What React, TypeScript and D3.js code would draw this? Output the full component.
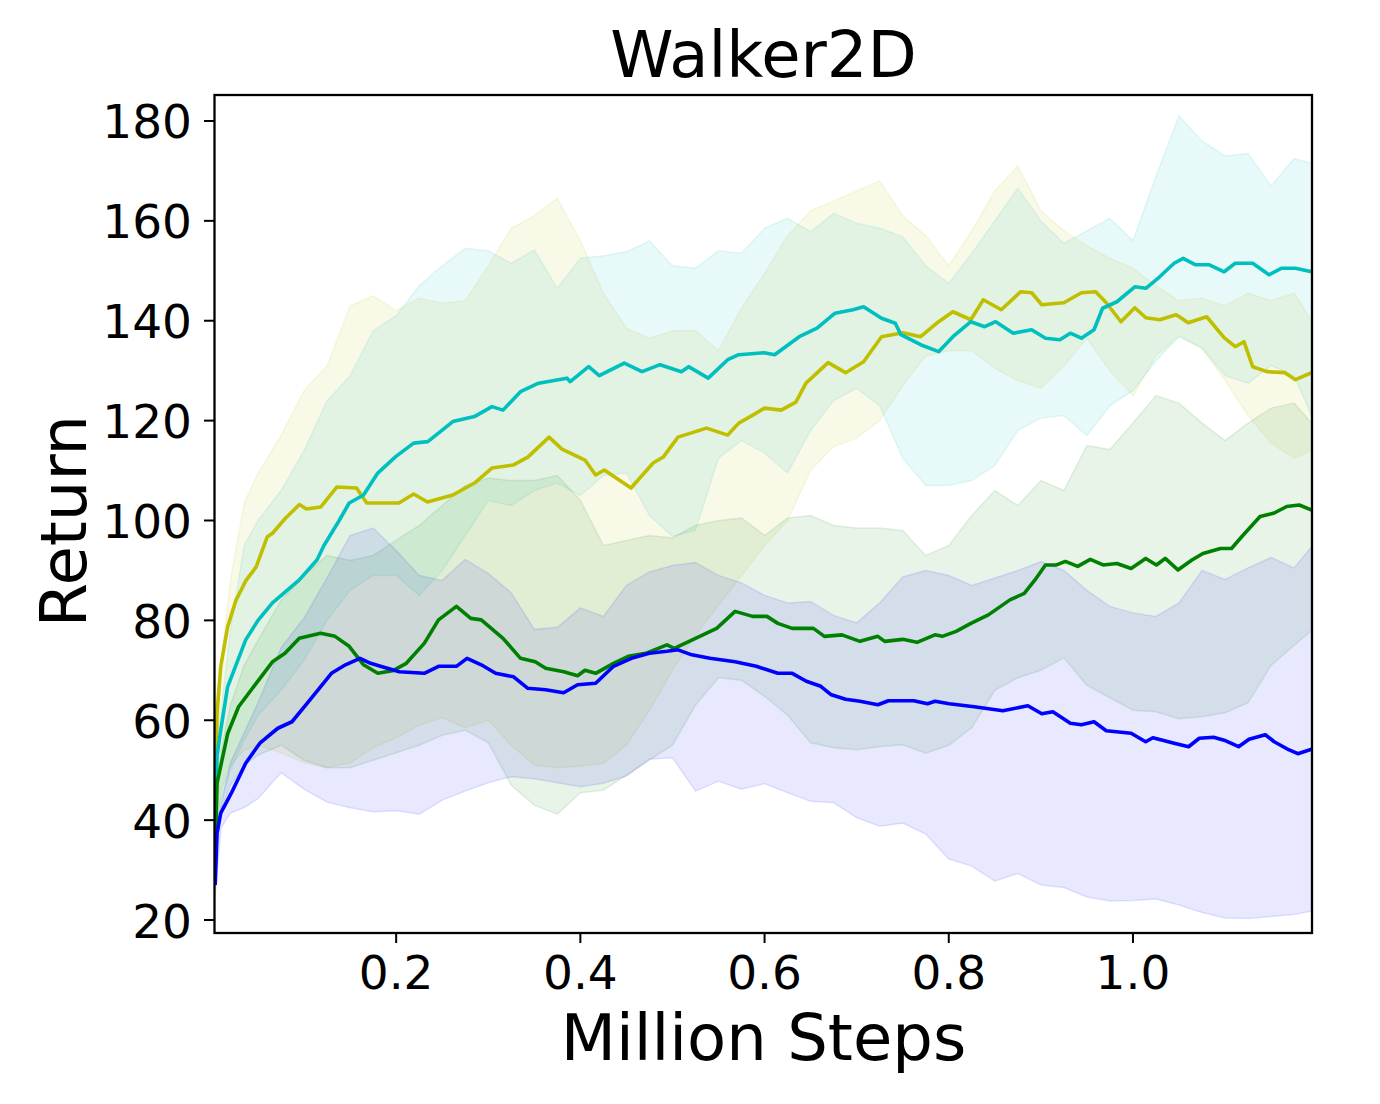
import React, { useEffect, useRef } from "react";
import * as d3 from "d3";

// shared grid for the shaded bands (million steps)
const bandSteps = [
  0.0035, 0.01, 0.02, 0.035, 0.05, 0.075, 0.1, 0.125, 0.15, 0.175, 0.2, 0.225, 0.25, 0.275, 0.3, 0.325, 0.35,
  0.375, 0.4, 0.425, 0.45, 0.475, 0.5, 0.525, 0.55, 0.575, 0.6, 0.625, 0.65, 0.675, 0.7, 0.725, 0.75, 0.775,
  0.8, 0.825, 0.85, 0.875, 0.9, 0.925, 0.95, 0.975, 1.0, 1.025, 1.05, 1.075, 1.1, 1.125, 1.15, 1.175, 1.194,
];

const yellowLow = [
  36, 46, 51, 54, 55, 53.5, 51.5, 50.5, 51.5, 54.5, 56.5, 59, 60.5, 58.5, 60, 55, 51, 50.5, 50.8, 51.4, 55, 62,
  70, 77, 83, 89, 95, 100, 110, 114.8, 116.5, 120, 127, 133, 134, 134, 130.5, 128, 126.5, 131, 136.5, 130, 125,
  133, 137, 134.5, 128, 121, 115.5, 112.5, 114,
];
const yellowHigh = [
  44, 72, 88, 103.5, 109.5, 117, 126, 131, 143, 145, 142, 144.5, 143.5, 144, 151, 158.5, 161, 164.5, 156, 145.5,
  138.5, 136.5, 138, 138, 134, 142.5, 149.5, 157, 162, 164, 166, 168, 161, 157, 151, 158, 166, 171, 162, 158,
  155, 152.5, 150.5, 147, 144, 144.5, 143, 145.5, 144, 145.5, 140,
];
const cyanLow = [
  34, 44, 50, 56, 61, 66, 72, 80, 86, 89, 89, 85, 90, 97, 104, 103, 106, 107.5, 105, 109, 109.5, 101, 96.8, 98,
  112.5, 116, 113.5, 109.5, 118, 124, 126.5, 123, 112.5, 107, 107, 108, 111, 118, 120.5, 121, 117, 123, 126,
  132, 136.8, 134.5, 129, 127.5, 131, 129, 121,
];
const cyanHigh = [
  40, 62, 78, 95, 100, 106, 114, 124, 129, 138, 141, 147, 151, 154.5, 154, 151.5, 154.2, 146.5, 152.5, 153,
  153.8, 156, 151, 150.5, 154, 153.5, 158.5, 160.5, 157.8, 161.5, 159.5, 158.5, 156.8, 151, 147.5, 153.5, 160,
  166.5, 160, 155.5, 158, 160.5, 156, 169, 181, 176, 173, 173.5, 167, 172.5, 171.5,
];
const greenLow = [
  32, 42, 47, 51, 53, 55, 52, 50.5, 50.5, 52, 53.5, 55, 57, 58, 55.5, 47, 43, 41.2, 45.5, 46, 49, 52, 55, 63,
  68.5, 68, 64.8, 61, 55.5, 54.5, 54.1, 54.7, 55.1, 53.4, 55, 58.5, 66, 68.5, 70, 72.5, 67, 64.5, 62, 61.7,
  60.3, 60.7, 61.5, 63.5, 71, 75, 78,
];
const greenHigh = [
  36, 54, 63, 71, 76, 84, 89, 93, 92, 93, 96, 99, 103, 107, 108.5, 108, 108, 109, 104, 95, 96, 97, 96.5, 99,
  100, 100.5, 97, 100.5, 101, 99, 98.5, 98.5, 98, 93, 95, 101, 106, 103, 108, 106, 115, 114.2, 119.5, 125,
  123.5, 119.5, 116, 119.5, 122.5, 123.5, 119.5,
];
const blueLow = [
  25, 38.5, 41.4, 42.5, 44.3, 49.5, 46.2, 43.6, 42.5, 41.7, 41.9, 41.2, 44, 45.8, 47.5, 48.7, 48.3, 47.5, 46.7,
  47.4, 48.8, 52.2, 52.5, 45.8, 47.8, 46.2, 47.3, 45.5, 43.8, 43.5, 40.5, 38.8, 39.4, 37.2, 32.2, 30.8, 27.8,
  29.3, 27, 26.5, 24.6, 23.8, 23.9, 24.2, 23, 21.5, 20.4, 20.3, 20.7, 21.1, 21.8,
];
const blueHigh = [
  31, 43, 51.5, 57.5, 63.5, 74.5, 80.5, 88.5, 97, 98.5, 94, 89, 88, 92.2, 89.4, 85.5, 78.2, 78.6, 82.5, 80.8,
  87, 89.7, 91, 91.6, 89, 87.5, 85, 83.5, 83.8, 81, 79.5, 83.5, 88.7, 90, 89, 87, 88.5, 90, 91.8, 90, 86, 82.8,
  81.5, 80.8, 83.5, 90, 88.2, 90.5, 92.6, 90.5, 94.8,
];

// mean curves
const yellowSteps = [
  0.0035, 0.0055, 0.0095, 0.017, 0.026, 0.037, 0.048, 0.06, 0.066, 0.08, 0.095, 0.1025, 0.118, 0.1355, 0.157,
  0.168, 0.203, 0.219, 0.234, 0.2615, 0.285, 0.304, 0.327, 0.343, 0.366, 0.38, 0.405, 0.4166, 0.426, 0.455,
  0.479, 0.49, 0.506, 0.537, 0.56, 0.572, 0.591, 0.6, 0.618, 0.634, 0.645, 0.669, 0.688, 0.7075, 0.727, 0.75,
  0.7695, 0.789, 0.8045, 0.824, 0.8375, 0.857, 0.878, 0.89, 0.901, 0.925, 0.944, 0.9595, 0.971, 0.987, 1.002,
  1.014, 1.029, 1.047, 1.06, 1.08, 1.099, 1.111, 1.1205, 1.13, 1.1455, 1.165, 1.1765, 1.194,
];
const yellowMean = [
  40, 61.5, 70.7, 78.7, 84, 88, 90.7, 96.7, 97.5, 100.5, 103.2, 102.3, 102.7, 106.7, 106.5, 103.5, 103.5,
  105.3, 103.7, 105.1, 107.5, 110.5, 111.1, 112.7, 116.7, 114.3, 112.1, 109.1, 110.1, 106.5, 111.5, 112.7,
  116.7, 118.5, 117.1, 119.5, 121.5, 122.5, 122.1, 123.7, 127.5, 131.6, 129.6, 131.8, 136.8, 137.6, 136.8,
  139.8, 141.8, 140.2, 144.2, 142.2, 145.8, 145.6, 143.2, 143.6, 145.6, 145.8, 143.6, 139.8, 142.6, 140.6,
  140.2, 141.2, 139.6, 140.8, 136.6, 134.8, 135.8, 130.8, 129.8, 129.6, 128.2, 129.6,
];
const cyanSteps = [
  0.0035, 0.0055, 0.0095, 0.017, 0.0366, 0.05, 0.0657, 0.0948, 0.114, 0.1216, 0.1375, 0.149, 0.1646, 0.18,
  0.1995, 0.219, 0.2344, 0.2615, 0.285, 0.304, 0.316, 0.335, 0.3546, 0.3855, 0.389, 0.409, 0.4205, 0.4477,
  0.467, 0.4865, 0.5097, 0.5175, 0.5388, 0.56, 0.572, 0.5995, 0.611, 0.6377, 0.657, 0.6765, 0.696, 0.7075,
  0.727, 0.742, 0.748, 0.7695, 0.789, 0.8045, 0.824, 0.839, 0.851, 0.87, 0.89, 0.905, 0.9207, 0.932, 0.944,
  0.9577, 0.967, 0.9826, 1.002, 1.014, 1.029, 1.0447, 1.0545, 1.068, 1.083, 1.099, 1.111, 1.13, 1.1477, 1.161,
  1.1765, 1.194,
];
const cyanMean = [
  36, 53, 58, 66.7, 76.1, 80, 83.5, 88.1, 92.1, 95, 99.8, 103.5, 105.1, 109.5, 112.8, 115.5, 115.8, 119.8,
  120.8, 122.8, 122.1, 125.8, 127.5, 128.5, 127.8, 130.8, 129, 131.5, 129.8, 131.2, 129.8, 130.8, 128.5, 132.2,
  133.2, 133.6, 133.2, 136.8, 138.5, 141.5, 142.2, 142.8, 140.5, 139.5, 137.2, 135.2, 133.8, 136.8, 139.8,
  138.8, 139.8, 137.5, 138.2, 136.5, 136.2, 137.5, 136.5, 138.2, 142.5, 143.8, 146.8, 146.5, 148.8, 151.5,
  152.5, 151.2, 151.2, 149.8, 151.5, 151.5, 149.2, 150.5, 150.5, 149.8,
];
const greenSteps = [
  0.0035, 0.0055, 0.0172, 0.0289, 0.048, 0.0657, 0.0793, 0.0948, 0.118, 0.1336, 0.149, 0.1646, 0.18, 0.196,
  0.211, 0.2305, 0.246, 0.2654, 0.281, 0.2924, 0.316, 0.335, 0.351, 0.3623, 0.382, 0.397, 0.405, 0.4166, 0.436,
  0.452, 0.471, 0.494, 0.502, 0.525, 0.548, 0.568, 0.587, 0.6026, 0.6144, 0.63, 0.653, 0.665, 0.684, 0.7036,
  0.723, 0.7305, 0.75, 0.7655, 0.785, 0.793, 0.808, 0.824, 0.843, 0.8664, 0.882, 0.8936, 0.905, 0.917, 0.9266,
  0.94, 0.9537, 0.9675, 0.9826, 0.998, 1.0138, 1.0255, 1.035, 1.0488, 1.064, 1.076, 1.095, 1.107, 1.1183, 1.138,
  1.1534, 1.167, 1.1805, 1.194,
];
const greenMean = [
  33, 47.4, 57.4, 62.7, 67.4, 71.7, 73.4, 76.4, 77.4, 76.8, 74.8, 71.1, 69.4, 69.9, 71.4, 75.4, 80.1, 82.8,
  80.4, 80.1, 76.4, 72.4, 71.7, 70.4, 69.7, 68.9, 70, 69.4, 71.4, 72.8, 73.4, 75.1, 74.4, 76.4, 78.4, 81.8,
  80.8, 80.8, 79.4, 78.4, 78.4, 76.8, 77.1, 75.8, 76.8, 75.8, 76.2, 75.6, 77.1, 76.8, 77.8, 79.4, 81.1, 84.1,
  85.4, 88.1, 91.1, 91.1, 91.8, 90.8, 92.2, 91.1, 91.4, 90.4, 92.4, 91.1, 92.4, 90.1, 92.1, 93.4, 94.4, 94.4,
  96.8, 100.8, 101.5, 102.8, 103.1, 102.1,
];
const blueSteps = [
  0.0035, 0.0055, 0.0095, 0.021, 0.0366, 0.052, 0.0715, 0.0869, 0.1064, 0.1297, 0.145, 0.1607, 0.1723, 0.183,
  0.2034, 0.2305, 0.246, 0.2654, 0.277, 0.2924, 0.308, 0.3275, 0.343, 0.3623, 0.3818, 0.397, 0.4166, 0.436,
  0.4554, 0.4748, 0.494, 0.506, 0.521, 0.5407, 0.568, 0.591, 0.6144, 0.63, 0.6454, 0.661, 0.6725, 0.688,
  0.7036, 0.723, 0.7345, 0.762, 0.777, 0.785, 0.8005, 0.8277, 0.8587, 0.8859, 0.901, 0.913, 0.932, 0.944,
  0.9577, 0.971, 0.998, 1.0138, 1.0216, 1.0448, 1.0604, 1.072, 1.0875, 1.099, 1.1147, 1.126, 1.1437, 1.1534,
  1.169, 1.179, 1.194,
];
const blueMean = [
  27, 37.4, 41.4, 45.4, 51.4, 55.4, 58.4, 59.7, 64.1, 69.4, 71.1, 72.4, 71.4, 70.8, 69.7, 69.4, 70.8, 70.8,
  72.4, 71.1, 69.4, 68.7, 66.4, 66.1, 65.5, 67.1, 67.4, 70.8, 72.4, 73.4, 73.8, 74.1, 73.1, 72.4, 71.7, 70.8,
  69.4, 69.4, 67.8, 66.8, 65.1, 64.2, 63.8, 63.1, 63.9, 63.9, 63.3, 63.8, 63.3, 62.7, 61.9, 62.9, 61.3, 61.7,
  59.4, 59.1, 59.7, 57.9, 57.4, 55.7, 56.5, 55.4, 54.7, 56.4, 56.6, 56, 54.7, 56.2, 57.1, 55.7, 54.1, 53.3,
  54.2,
];

const xTicks = [0.2, 0.4, 0.6, 0.8, 1.0];
const yTicks = [20, 40, 60, 80, 100, 120, 140, 160, 180];

const series = [
  { color: "#bfbf00", steps: yellowSteps, mean: yellowMean, low: yellowLow, high: yellowHigh },
  { color: "#00bfbf", steps: cyanSteps, mean: cyanMean, low: cyanLow, high: cyanHigh },
  { color: "#008000", steps: greenSteps, mean: greenMean, low: greenLow, high: greenHigh },
  { color: "#0000ff", steps: blueSteps, mean: blueMean, low: blueLow, high: blueHigh },
];

const W = 1380;
const H = 1104;
const FONT = "DejaVu Sans, sans-serif";

const App = () => {
  const svgRef = useRef<SVGSVGElement | null>(null);

  useEffect(() => {
    const svg = d3.select(svgRef.current);
    svg.selectAll("*").remove();

    const left = 215;
    const right = 1312;
    const top = 96;
    const bottom = 932;

    const x = d3.scaleLinear().domain([0.0033, 1.1944]).range([left, right]);
    const y = d3.scaleLinear().domain([17.6, 185]).range([bottom, top]);

    svg
      .append("defs")
      .append("clipPath")
      .attr("id", "plot-clip")
      .append("rect")
      .attr("x", left)
      .attr("y", top)
      .attr("width", right - left)
      .attr("height", bottom - top);

    const plot = svg.append("g").attr("clip-path", "url(#plot-clip)");

    // shaded bands first, lines on top
    series.forEach((s) => {
      const area = d3
        .area<number>()
        .x((_, i) => x(bandSteps[i]))
        .y0((_, i) => y(s.low[i]))
        .y1((_, i) => y(s.high[i]));
      plot
        .append("path")
        .attr("d", area(bandSteps))
        .attr("fill", s.color)
        .attr("fill-opacity", 0.09)
        .attr("stroke", s.color)
        .attr("stroke-opacity", 0.1)
        .attr("stroke-width", 1.5);
    });

    series.forEach((s) => {
      const line = d3
        .line<number>()
        .x((_, i) => x(s.steps[i]))
        .y((d) => y(d));
      plot
        .append("path")
        .attr("d", line(s.mean))
        .attr("fill", "none")
        .attr("stroke", s.color)
        .attr("stroke-width", 3.6)
        .attr("stroke-linejoin", "round");
    });

    // axes frame
    svg
      .append("rect")
      .attr("x", left - 0.5)
      .attr("y", top - 1)
      .attr("width", right - left + 0.5)
      .attr("height", bottom - top + 2)
      .attr("fill", "none")
      .attr("stroke", "black")
      .attr("stroke-width", 2.3);

    const yAxis = svg.append("g");
    yTicks.forEach((v) => {
      yAxis
        .append("line")
        .attr("x1", left - 11)
        .attr("x2", left - 0.5)
        .attr("y1", y(v))
        .attr("y2", y(v))
        .attr("stroke", "black")
        .attr("stroke-width", 2);
      yAxis
        .append("text")
        .attr("x", 192)
        .attr("y", y(v) + 17.5)
        .attr("text-anchor", "end")
        .attr("font-family", FONT)
        .attr("font-size", 47)
        .text(v);
    });

    const xAxis = svg.append("g");
    xTicks.forEach((v) => {
      xAxis
        .append("line")
        .attr("x1", x(v))
        .attr("x2", x(v))
        .attr("y1", bottom + 1)
        .attr("y2", bottom + 11)
        .attr("stroke", "black")
        .attr("stroke-width", 2);
      xAxis
        .append("text")
        .attr("x", x(v))
        .attr("y", 989)
        .attr("text-anchor", "middle")
        .attr("font-family", FONT)
        .attr("font-size", 47)
        .text(d3.format(".1f")(v));
    });

    svg
      .append("text")
      .attr("x", (left + right) / 2)
      .attr("y", 77)
      .attr("text-anchor", "middle")
      .attr("font-family", FONT)
      .attr("font-size", 64)
      .text("Walker2D");

    svg
      .append("text")
      .attr("x", (left + right) / 2)
      .attr("y", 1060)
      .attr("text-anchor", "middle")
      .attr("font-family", FONT)
      .attr("font-size", 64)
      .text("Million Steps");

    svg
      .append("text")
      .attr("transform", "translate(86,521) rotate(-90)")
      .attr("text-anchor", "middle")
      .attr("font-family", FONT)
      .attr("font-size", 64)
      .text("Return");
  }, []);

  return (
    <div style={{ position: "absolute", left: 0, top: 0, width: W, height: H, background: "white" }}>
      <svg ref={svgRef} width={W} height={H}></svg>
    </div>
  );
};

export default App;
